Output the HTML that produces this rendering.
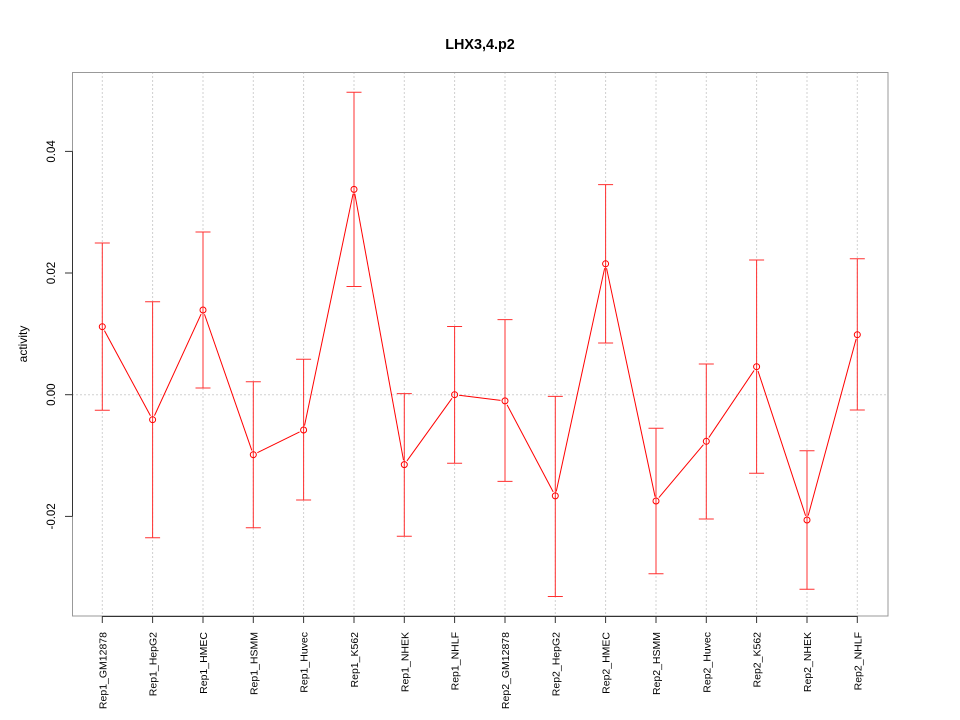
<!DOCTYPE html>
<html><head><meta charset="utf-8"><style>
html,body{margin:0;padding:0;background:#fff;}
svg{display:block;}
text{font-family:"Liberation Sans",Arial,sans-serif;fill:#000;}
</style></head><body>
<svg width="960" height="720" viewBox="0 0 960 720" xmlns="http://www.w3.org/2000/svg">
<rect x="0" y="0" width="960" height="720" fill="#fff"/>
<!-- grid -->
<g stroke="#d0d0d0" stroke-width="1" stroke-dasharray="2,2">
<line x1="102.3" y1="72" x2="102.3" y2="616"/>
<line x1="152.6" y1="72" x2="152.6" y2="616"/>
<line x1="203" y1="72" x2="203" y2="616"/>
<line x1="253.3" y1="72" x2="253.3" y2="616"/>
<line x1="303.6" y1="72" x2="303.6" y2="616"/>
<line x1="354" y1="72" x2="354" y2="616"/>
<line x1="404.3" y1="72" x2="404.3" y2="616"/>
<line x1="454.6" y1="72" x2="454.6" y2="616"/>
<line x1="505" y1="72" x2="505" y2="616"/>
<line x1="555.3" y1="72" x2="555.3" y2="616"/>
<line x1="605.6" y1="72" x2="605.6" y2="616"/>
<line x1="656" y1="72" x2="656" y2="616"/>
<line x1="706.3" y1="72" x2="706.3" y2="616"/>
<line x1="756.6" y1="72" x2="756.6" y2="616"/>
<line x1="807" y1="72" x2="807" y2="616"/>
<line x1="857.3" y1="72" x2="857.3" y2="616"/>
<line x1="72" y1="394.7" x2="888" y2="394.7"/>
</g>
<!-- box -->
<rect x="72.5" y="72.5" width="815.5" height="543.5" fill="none" stroke="#999" stroke-width="1"/>
<!-- axes -->
<g stroke="#333" stroke-width="1">
<line x1="72.5" y1="151.4" x2="72.5" y2="516.4"/>
<line x1="65" y1="151.4" x2="72.5" y2="151.4"/>
<line x1="65" y1="273" x2="72.5" y2="273"/>
<line x1="65" y1="394.7" x2="72.5" y2="394.7"/>
<line x1="65" y1="516.4" x2="72.5" y2="516.4"/>
<line x1="102.3" y1="616.5" x2="857.3" y2="616.5"/>
<line x1="102.3" y1="616" x2="102.3" y2="623"/>
<line x1="152.6" y1="616" x2="152.6" y2="623"/>
<line x1="203" y1="616" x2="203" y2="623"/>
<line x1="253.3" y1="616" x2="253.3" y2="623"/>
<line x1="303.6" y1="616" x2="303.6" y2="623"/>
<line x1="354" y1="616" x2="354" y2="623"/>
<line x1="404.3" y1="616" x2="404.3" y2="623"/>
<line x1="454.6" y1="616" x2="454.6" y2="623"/>
<line x1="505" y1="616" x2="505" y2="623"/>
<line x1="555.3" y1="616" x2="555.3" y2="623"/>
<line x1="605.6" y1="616" x2="605.6" y2="623"/>
<line x1="656" y1="616" x2="656" y2="623"/>
<line x1="706.3" y1="616" x2="706.3" y2="623"/>
<line x1="756.6" y1="616" x2="756.6" y2="623"/>
<line x1="807" y1="616" x2="807" y2="623"/>
<line x1="857.3" y1="616" x2="857.3" y2="623"/>
</g>
<!-- y tick labels -->
<g font-size="11.5" text-anchor="middle">
<text transform="translate(55,151.4) rotate(-90)">0.04</text>
<text transform="translate(55,273) rotate(-90)">0.02</text>
<text transform="translate(55,394.7) rotate(-90)">0.00</text>
<text transform="translate(55,516.4) rotate(-90)">-0.02</text>
</g>
<!-- x tick labels -->
<g font-size="10.5" text-anchor="end">
<text transform="translate(106.3,632) rotate(-90)">Rep1_GM12878</text>
<text transform="translate(156.6,632) rotate(-90)">Rep1_HepG2</text>
<text transform="translate(207,632) rotate(-90)">Rep1_HMEC</text>
<text transform="translate(257.3,632) rotate(-90)">Rep1_HSMM</text>
<text transform="translate(307.6,632) rotate(-90)">Rep1_Huvec</text>
<text transform="translate(358,632) rotate(-90)">Rep1_K562</text>
<text transform="translate(408.3,632) rotate(-90)">Rep1_NHEK</text>
<text transform="translate(458.6,632) rotate(-90)">Rep1_NHLF</text>
<text transform="translate(509,632) rotate(-90)">Rep2_GM12878</text>
<text transform="translate(559.3,632) rotate(-90)">Rep2_HepG2</text>
<text transform="translate(609.6,632) rotate(-90)">Rep2_HMEC</text>
<text transform="translate(660,632) rotate(-90)">Rep2_HSMM</text>
<text transform="translate(710.3,632) rotate(-90)">Rep2_Huvec</text>
<text transform="translate(760.6,632) rotate(-90)">Rep2_K562</text>
<text transform="translate(811,632) rotate(-90)">Rep2_NHEK</text>
<text transform="translate(861.3,632) rotate(-90)">Rep2_NHLF</text>
</g>
<!-- title & ylab -->
<text x="480" y="49" font-size="14.4" font-weight="bold" text-anchor="middle">LHX3,4.p2</text>
<text transform="translate(27,344) rotate(-90)" font-size="12" text-anchor="middle">activity</text>
<!-- error bars -->
<g stroke="#ff3030" stroke-width="1" fill="none">
<path d="M102.3,243V410.3M94.8,243H109.8M94.8,410.3H109.8"/>
<path d="M152.6,301.7V537.7M145.1,301.7H160.1M145.1,537.7H160.1"/>
<path d="M203,232V388M195.5,232H210.5M195.5,388H210.5"/>
<path d="M253.3,381.7V527.7M245.8,381.7H260.8M245.8,527.7H260.8"/>
<path d="M303.6,359.3V500M296.1,359.3H311.1M296.1,500H311.1"/>
<path d="M354,92.3V286.5M346.5,92.3H361.5M346.5,286.5H361.5"/>
<path d="M404.3,393.6V536.2M396.8,393.6H411.8M396.8,536.2H411.8"/>
<path d="M454.6,326.5V463.2M447.1,326.5H462.1M447.1,463.2H462.1"/>
<path d="M505,319.6V481.4M497.5,319.6H512.5M497.5,481.4H512.5"/>
<path d="M555.3,396.4V596.5M547.8,396.4H562.8M547.8,596.5H562.8"/>
<path d="M605.6,184.6V343M598.1,184.6H613.1M598.1,343H613.1"/>
<path d="M656,428.3V573.7M648.5,428.3H663.5M648.5,573.7H663.5"/>
<path d="M706.3,364V519M698.8,364H713.8M698.8,519H713.8"/>
<path d="M756.6,260V473.3M749.1,260H764.1M749.1,473.3H764.1"/>
<path d="M807,450.7V589.3M799.5,450.7H814.5M799.5,589.3H814.5"/>
<path d="M857.3,258.7V410M849.8,258.7H864.8M849.8,410H864.8"/>
</g>
<!-- series lines with gaps -->
<g stroke="#ff0000" stroke-width="1" fill="none">
<line x1="104.44" y1="330.66" x2="150.46" y2="415.74"/>
<line x1="154.48" y1="415.61" x2="201.12" y2="314.09"/>
<line x1="204.48" y1="314.25" x2="251.82" y2="450.45"/>
<line x1="257.34" y1="452.72" x2="299.56" y2="431.98"/>
<line x1="304.52" y1="425.6" x2="353.08" y2="193.8"/>
<line x1="354.81" y1="193.83" x2="403.49" y2="460.17"/>
<line x1="406.93" y1="460.95" x2="451.97" y2="398.35"/>
<line x1="459.07" y1="395.25" x2="500.53" y2="400.35"/>
<line x1="507.11" y1="404.88" x2="553.19" y2="491.92"/>
<line x1="556.25" y1="491.5" x2="604.65" y2="268.2"/>
<line x1="606.54" y1="268.2" x2="655.06" y2="496.6"/>
<line x1="658.9" y1="497.56" x2="703.4" y2="444.74"/>
<line x1="708.82" y1="437.57" x2="754.08" y2="370.43"/>
<line x1="758.01" y1="370.98" x2="805.59" y2="515.72"/>
<line x1="808.18" y1="515.66" x2="856.12" y2="339.04"/>
</g>
<!-- points -->
<g stroke="#ff0000" stroke-width="1" fill="none">
<circle cx="102.3" cy="326.7" r="3"/>
<circle cx="152.6" cy="419.7" r="3"/>
<circle cx="203" cy="310" r="3"/>
<circle cx="253.3" cy="454.7" r="3"/>
<circle cx="303.6" cy="430" r="3"/>
<circle cx="354" cy="189.4" r="3"/>
<circle cx="404.3" cy="464.6" r="3"/>
<circle cx="454.6" cy="394.7" r="3"/>
<circle cx="505" cy="400.9" r="3"/>
<circle cx="555.3" cy="495.9" r="3"/>
<circle cx="605.6" cy="263.8" r="3"/>
<circle cx="656" cy="501" r="3"/>
<circle cx="706.3" cy="441.3" r="3"/>
<circle cx="756.6" cy="366.7" r="3"/>
<circle cx="807" cy="520" r="3"/>
<circle cx="857.3" cy="334.7" r="3"/>
</g>
</svg>
</body></html>
